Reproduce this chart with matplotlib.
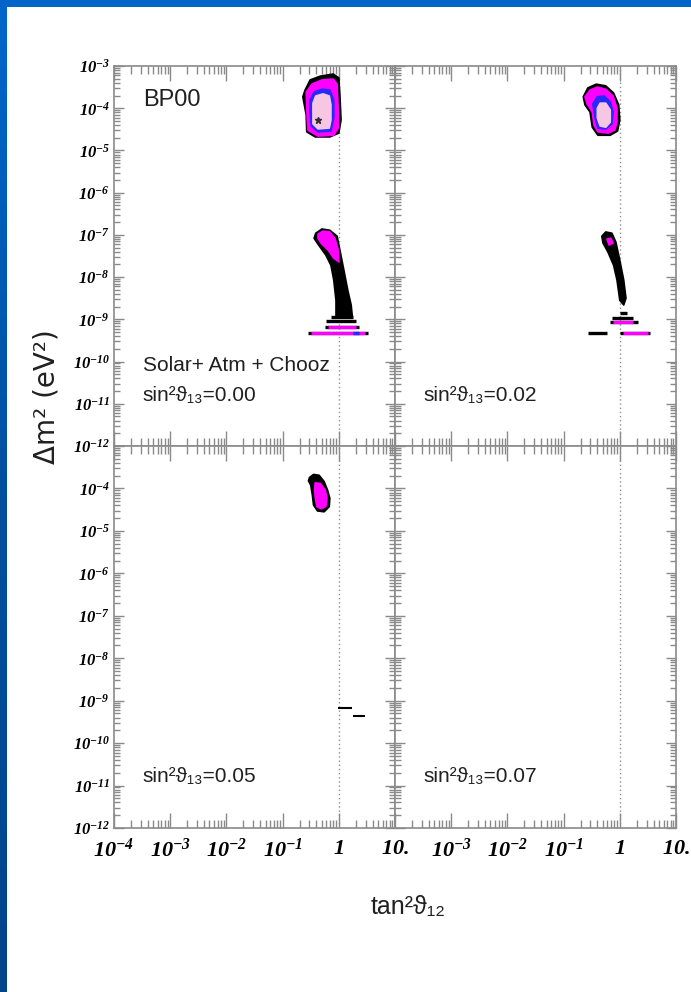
#!/usr/bin/env python3
"""
Allowed regions in the (tan^2 theta12, Delta m^2) plane for four values of
sin^2 theta13 (solar + atmospheric + CHOOZ), BP00 solar model.
"""

import matplotlib
matplotlib.use('Agg')
import matplotlib.pyplot as plt
import numpy as np
from matplotlib.patches import Rectangle
from matplotlib.ticker import FixedLocator, LogLocator, NullFormatter

# ---------------------------------------------------------------------------
# Axis decades (log10) and tick labels
# ---------------------------------------------------------------------------
Y_DECADES = [-3, -4, -5, -6, -7, -8, -9, -10, -11, -12]
X_DECADES = [-4, -3, -2, -1, 0, 1]
Y_LABELS_TOP = [r'$\mathbf{10^{-%d}}$' % -d for d in Y_DECADES]
Y_LABELS_BOTTOM = [''] + Y_LABELS_TOP[1:]
X_LABELS_LEFT = [r'$\mathbf{10^{-4}}$', r'$\mathbf{10^{-3}}$', r'$\mathbf{10^{-2}}$',
                 r'$\mathbf{10^{-1}}$', r'$\mathbf{1}$', r'$\mathbf{10.}$']
X_LABELS_RIGHT = [''] + X_LABELS_LEFT[1:]

S13_VALUES = ['0.00', '0.02', '0.05', '0.07']

# ---------------------------------------------------------------------------
# Contours, log10(tan^2 theta12) vs log10(Delta m^2)
# ---------------------------------------------------------------------------
# sin^2 theta13 = 0.00
TL_LMA_BLACK_X = [-0.60, -0.51, -0.33, -0.10, 0.00, 0.02, 0.04, 0.00, -0.16, -0.42, -0.57, -0.58, -0.64]
TL_LMA_BLACK_Y = [-3.57, -3.33, -3.24, -3.19, -3.28, -3.69, -4.28, -4.59, -4.68, -4.68, -4.56, -4.16, -3.73]
TL_LMA_MAG_X = [-0.58, -0.48, -0.30, -0.10, -0.03, -0.01, -0.01, -0.09, -0.37, -0.55, -0.57]
TL_LMA_MAG_Y = [-3.62, -3.43, -3.33, -3.31, -3.43, -4.04, -4.47, -4.64, -4.66, -4.52, -4.04]
TL_LMA_BLUE_X = [-0.51, -0.44, -0.30, -0.16, -0.09, -0.09, -0.14, -0.37, -0.49, -0.51]
TL_LMA_BLUE_Y = [-3.81, -3.62, -3.55, -3.57, -3.81, -4.23, -4.54, -4.56, -4.42, -4.08]
TL_LMA_PINK_X = [-0.46, -0.41, -0.28, -0.17, -0.14, -0.14, -0.17, -0.37, -0.46]
TL_LMA_PINK_Y = [-3.88, -3.71, -3.66, -3.71, -3.92, -4.28, -4.47, -4.49, -4.37]
TL_BEST_X = -0.37
TL_BEST_Y = -4.28

TL_LOW_BLACK_X = [-0.41, -0.30, -0.16, -0.03, 0.02, 0.09, 0.16, 0.22, 0.24, -0.05, -0.05, -0.09, -0.14, -0.23, -0.37, -0.44]
TL_LOW_BLACK_Y = [-6.96, -6.86, -6.89, -7.03, -7.36, -7.83, -8.31, -8.66, -8.92, -8.92, -8.55, -8.07, -7.72, -7.48, -7.22, -7.08]
TL_LOW_MAG_X = [-0.37, -0.28, -0.16, -0.07, -0.01, 0.00, -0.09, -0.19, -0.32, -0.37]
TL_LOW_MAG_Y = [-6.98, -6.91, -6.93, -7.08, -7.36, -7.64, -7.55, -7.36, -7.19, -7.08]

TL_BAND_Y = [-8.95, -9.05, -9.17, -9.17, -9.33, -9.33, -9.33]
TL_BAND_X0 = [-0.14, -0.22, -0.25, -0.20, -0.55, -0.50, 0.26]
TL_BAND_X1 = [0.25, 0.30, 0.36, 0.30, 0.52, 0.47, 0.36]
TL_BAND_LEVEL = ['black', 'black', 'black', 'mag', 'black', 'mag', 'blue']

# sin^2 theta13 = 0.02
TR_LMA_BLACK_X = [-0.65, -0.57, -0.42, -0.25, -0.11, -0.02, 0.00, -0.04, -0.17, -0.39, -0.49, -0.53, -0.62]
TR_LMA_BLACK_Y = [-3.73, -3.52, -3.43, -3.47, -3.64, -3.92, -4.28, -4.54, -4.64, -4.64, -4.45, -4.09, -3.92]
TR_LMA_MAG_X = [-0.62, -0.53, -0.40, -0.25, -0.12, -0.05, -0.05, -0.09, -0.21, -0.39, -0.46, -0.49, -0.58]
TR_LMA_MAG_Y = [-3.73, -3.57, -3.50, -3.55, -3.71, -4.00, -4.33, -4.52, -4.59, -4.56, -4.40, -4.09, -3.90]
TR_LMA_BLUE_X = [-0.48, -0.40, -0.28, -0.17, -0.12, -0.14, -0.25, -0.39, -0.44]
TR_LMA_BLUE_Y = [-3.90, -3.73, -3.71, -3.85, -4.09, -4.37, -4.49, -4.47, -4.23]
TR_LMA_PINK_X = [-0.40, -0.35, -0.25, -0.17, -0.17, -0.25, -0.35, -0.40]
TR_LMA_PINK_Y = [-4.00, -3.88, -3.88, -4.04, -4.33, -4.45, -4.42, -4.23]

TR_LOW_BLACK_X = [-0.32, -0.25, -0.14, -0.07, 0.00, 0.07, 0.11, 0.07, 0.00, -0.05, -0.11, -0.21, -0.30]
TR_LOW_BLACK_Y = [-7.03, -6.93, -6.96, -7.17, -7.60, -8.07, -8.50, -8.66, -8.55, -8.07, -7.72, -7.41, -7.19]
TR_LOW_MAG_X = [-0.23, -0.16, -0.12, -0.19]
TR_LOW_MAG_Y = [-7.10, -7.08, -7.19, -7.24]

TR_BAND_Y = [-8.85, -8.97, -9.07, -9.07, -9.33, -9.33, -9.33]
TR_BAND_X0 = [0.00, -0.14, -0.17, -0.12, -0.57, 0.00, 0.05]
TR_BAND_X1 = [0.12, 0.23, 0.32, 0.23, -0.23, 0.54, 0.50]
TR_BAND_LEVEL = ['black', 'black', 'black', 'mag', 'black', 'black', 'mag']

# sin^2 theta13 = 0.05
BL_LMA_BLACK_X = [-0.52, -0.45, -0.35, -0.26, -0.20, -0.16, -0.17, -0.26, -0.38, -0.45, -0.47, -0.50, -0.54]
BL_LMA_BLACK_Y = [-3.74, -3.67, -3.69, -3.84, -4.04, -4.23, -4.43, -4.55, -4.53, -4.39, -4.16, -3.92, -3.82]
BL_LMA_MAG_X = [-0.42, -0.33, -0.24, -0.21, -0.23, -0.31, -0.39, -0.42, -0.43]
BL_LMA_MAG_Y = [-3.87, -3.88, -4.04, -4.23, -4.42, -4.48, -4.43, -4.20, -4.00]

BL_BAND_Y = [-9.17, -9.36]
BL_BAND_X0 = [-0.02, 0.25]
BL_BAND_X1 = [0.23, 0.46]
BL_BAND_LEVEL = ['black', 'black']

# ---------------------------------------------------------------------------
# Styling
# ---------------------------------------------------------------------------
LEVEL_COLORS = {'black': '#000000', 'mag': '#FF00FF', 'blue': '#2828FF', 'pink': '#F6C6E2'}
FRAME_GRAY = '#8a8a8a'
SANS = ['Liberation Sans', 'DejaVu Sans']

W, H = 691, 992


def fig_rect(x0, y0, x1, y1):
    """Pixel box (top-left origin) -> figure fraction rect."""
    return [x0 / W, 1 - y1 / H, (x1 - x0) / W, (y1 - y0) / H]


def fill_region(ax, xs, ys, level):
    c = LEVEL_COLORS[level]
    ax.fill(10.0 ** np.asarray(xs), 10.0 ** np.asarray(ys), facecolor=c,
            edgecolor=c, linewidth=1.2, joinstyle='round', zorder=3)


def draw_bands(ax, ys, x0s, x1s, levels, lw=2.4):
    for y, a, b, lev in zip(ys, x0s, x1s, levels):
        ax.hlines(10.0 ** y, 10.0 ** a, 10.0 ** b, colors=LEVEL_COLORS[lev],
                  linewidth=lw, zorder=4)


def setup_axes(ax, ylabels, xlabels):
    ax.set_xscale('log')
    ax.set_yscale('log')
    ax.set_xlim(1e-4, 10)
    ax.set_ylim(1e-12, 1e-3)

    ax.xaxis.set_major_locator(FixedLocator(10.0 ** np.array(X_DECADES)))
    ax.yaxis.set_major_locator(FixedLocator(10.0 ** np.array(Y_DECADES)))
    ax.xaxis.set_minor_locator(LogLocator(base=10, subs=np.arange(2, 10), numticks=100))
    ax.yaxis.set_minor_locator(LogLocator(base=10, subs=np.arange(2, 10), numticks=100))
    ax.xaxis.set_minor_formatter(NullFormatter())
    ax.yaxis.set_minor_formatter(NullFormatter())

    if ylabels is None:
        ax.set_yticklabels([])
    else:
        ax.set_yticklabels(ylabels)
    if xlabels is None:
        ax.set_xticklabels([])
    else:
        ax.set_xticklabels(xlabels)

    ax.tick_params(axis='both', which='both', direction='in', top=True, right=True,
                   color=FRAME_GRAY, width=1.0)
    ax.tick_params(axis='x', which='major', length=11, pad=7, labelsize=16)
    ax.tick_params(axis='x', which='minor', length=5.5)
    ax.tick_params(axis='y', which='major', length=7, pad=3, labelsize=12)
    ax.tick_params(axis='y', which='minor', length=4)
    for sp in ax.spines.values():
        sp.set_color(FRAME_GRAY)
        sp.set_linewidth(1.2)

    # tan^2 theta12 = 1 reference line
    ax.axvline(1.0, color='#909090', linestyle=(0, (1, 2)), linewidth=1.0, zorder=2)


def label_s13(ax, value):
    ax.text(0.10, 0.134, 'sin²ϑ₁₃=' + value, transform=ax.transAxes,
            ha='left', va='center', fontsize=15, family=SANS, color='#202020', zorder=6)


def main():
    plt.rcParams['mathtext.fontset'] = 'custom'
    plt.rcParams['mathtext.bf'] = 'Liberation Serif:bold:italic'
    plt.rcParams['mathtext.rm'] = 'Liberation Serif:bold:italic'

    fig = plt.figure(figsize=(W / 100, H / 100), dpi=100)
    fig.patch.set_facecolor('white')

    # blue slide border: flat strip on top, darkening strip on the left
    fig.patches.append(Rectangle((0, 1 - 7 / H), 1, 7 / H, transform=fig.transFigure,
                                 facecolor='#0064C8', edgecolor='none', zorder=0))
    bg = fig.add_axes([0, 0, 7 / W, 1])
    grad = np.linspace(0, 1, 256).reshape(-1, 1)
    bg.imshow(grad, aspect='auto', extent=[0, 1, 0, 1], origin='upper',
              cmap=matplotlib.colors.LinearSegmentedColormap.from_list(
                  'slide', ['#0066CC', '#0050A0', '#00448A']))
    bg.set_axis_off()

    ax_tl = fig.add_axes(fig_rect(114, 66, 395, 446))
    ax_tr = fig.add_axes(fig_rect(395, 66, 676, 446))
    ax_bl = fig.add_axes(fig_rect(114, 446, 395, 828))
    ax_br = fig.add_axes(fig_rect(395, 446, 676, 828))

    setup_axes(ax_tl, Y_LABELS_TOP, None)
    setup_axes(ax_tr, None, None)
    setup_axes(ax_bl, Y_LABELS_BOTTOM, X_LABELS_LEFT)
    setup_axes(ax_br, None, X_LABELS_RIGHT)

    # ---- sin^2 theta13 = 0.00 ----
    fill_region(ax_tl, TL_LMA_BLACK_X, TL_LMA_BLACK_Y, 'black')
    fill_region(ax_tl, TL_LMA_MAG_X, TL_LMA_MAG_Y, 'mag')
    fill_region(ax_tl, TL_LMA_BLUE_X, TL_LMA_BLUE_Y, 'blue')
    fill_region(ax_tl, TL_LMA_PINK_X, TL_LMA_PINK_Y, 'pink')
    ax_tl.plot(10.0 ** TL_BEST_X, 10.0 ** TL_BEST_Y, marker='*', color='#303030',
               markersize=5, zorder=5)
    fill_region(ax_tl, TL_LOW_BLACK_X, TL_LOW_BLACK_Y, 'black')
    fill_region(ax_tl, TL_LOW_MAG_X, TL_LOW_MAG_Y, 'mag')
    draw_bands(ax_tl, TL_BAND_Y, TL_BAND_X0, TL_BAND_X1, TL_BAND_LEVEL)

    ax_tl.text(0.103, 0.911, 'BP00', transform=ax_tl.transAxes, ha='left', va='center',
               fontsize=17, family=SANS, color='#202020')
    ax_tl.text(0.103, 0.213, 'Solar+ Atm + Chooz', transform=ax_tl.transAxes,
               ha='left', va='center', fontsize=15, family=SANS, color='#202020')
    label_s13(ax_tl, S13_VALUES[0])

    # ---- sin^2 theta13 = 0.02 ----
    fill_region(ax_tr, TR_LMA_BLACK_X, TR_LMA_BLACK_Y, 'black')
    fill_region(ax_tr, TR_LMA_MAG_X, TR_LMA_MAG_Y, 'mag')
    fill_region(ax_tr, TR_LMA_BLUE_X, TR_LMA_BLUE_Y, 'blue')
    fill_region(ax_tr, TR_LMA_PINK_X, TR_LMA_PINK_Y, 'pink')
    fill_region(ax_tr, TR_LOW_BLACK_X, TR_LOW_BLACK_Y, 'black')
    fill_region(ax_tr, TR_LOW_MAG_X, TR_LOW_MAG_Y, 'mag')
    draw_bands(ax_tr, TR_BAND_Y, TR_BAND_X0, TR_BAND_X1, TR_BAND_LEVEL)
    label_s13(ax_tr, S13_VALUES[1])

    # ---- sin^2 theta13 = 0.05 ----
    fill_region(ax_bl, BL_LMA_BLACK_X, BL_LMA_BLACK_Y, 'black')
    fill_region(ax_bl, BL_LMA_MAG_X, BL_LMA_MAG_Y, 'mag')
    draw_bands(ax_bl, BL_BAND_Y, BL_BAND_X0, BL_BAND_X1, BL_BAND_LEVEL, lw=1.5)
    label_s13(ax_bl, S13_VALUES[2])

    # ---- sin^2 theta13 = 0.07: nothing allowed ----
    label_s13(ax_br, S13_VALUES[3])

    # shared axis titles
    fig.text(408 / W, 1 - 907 / H, 'tan²ϑ₁₂', ha='center', va='center',
             fontsize=18, family=SANS, color='#202020')
    fig.text(47 / W, 1 - 397 / H, 'Δm² (eV²)', ha='center', va='center', rotation=90,
             fontsize=20, family=['DejaVu Sans'], color='#202020')

    fig.savefig('out.png', dpi=100)
    plt.close(fig)


if __name__ == '__main__':
    main()
